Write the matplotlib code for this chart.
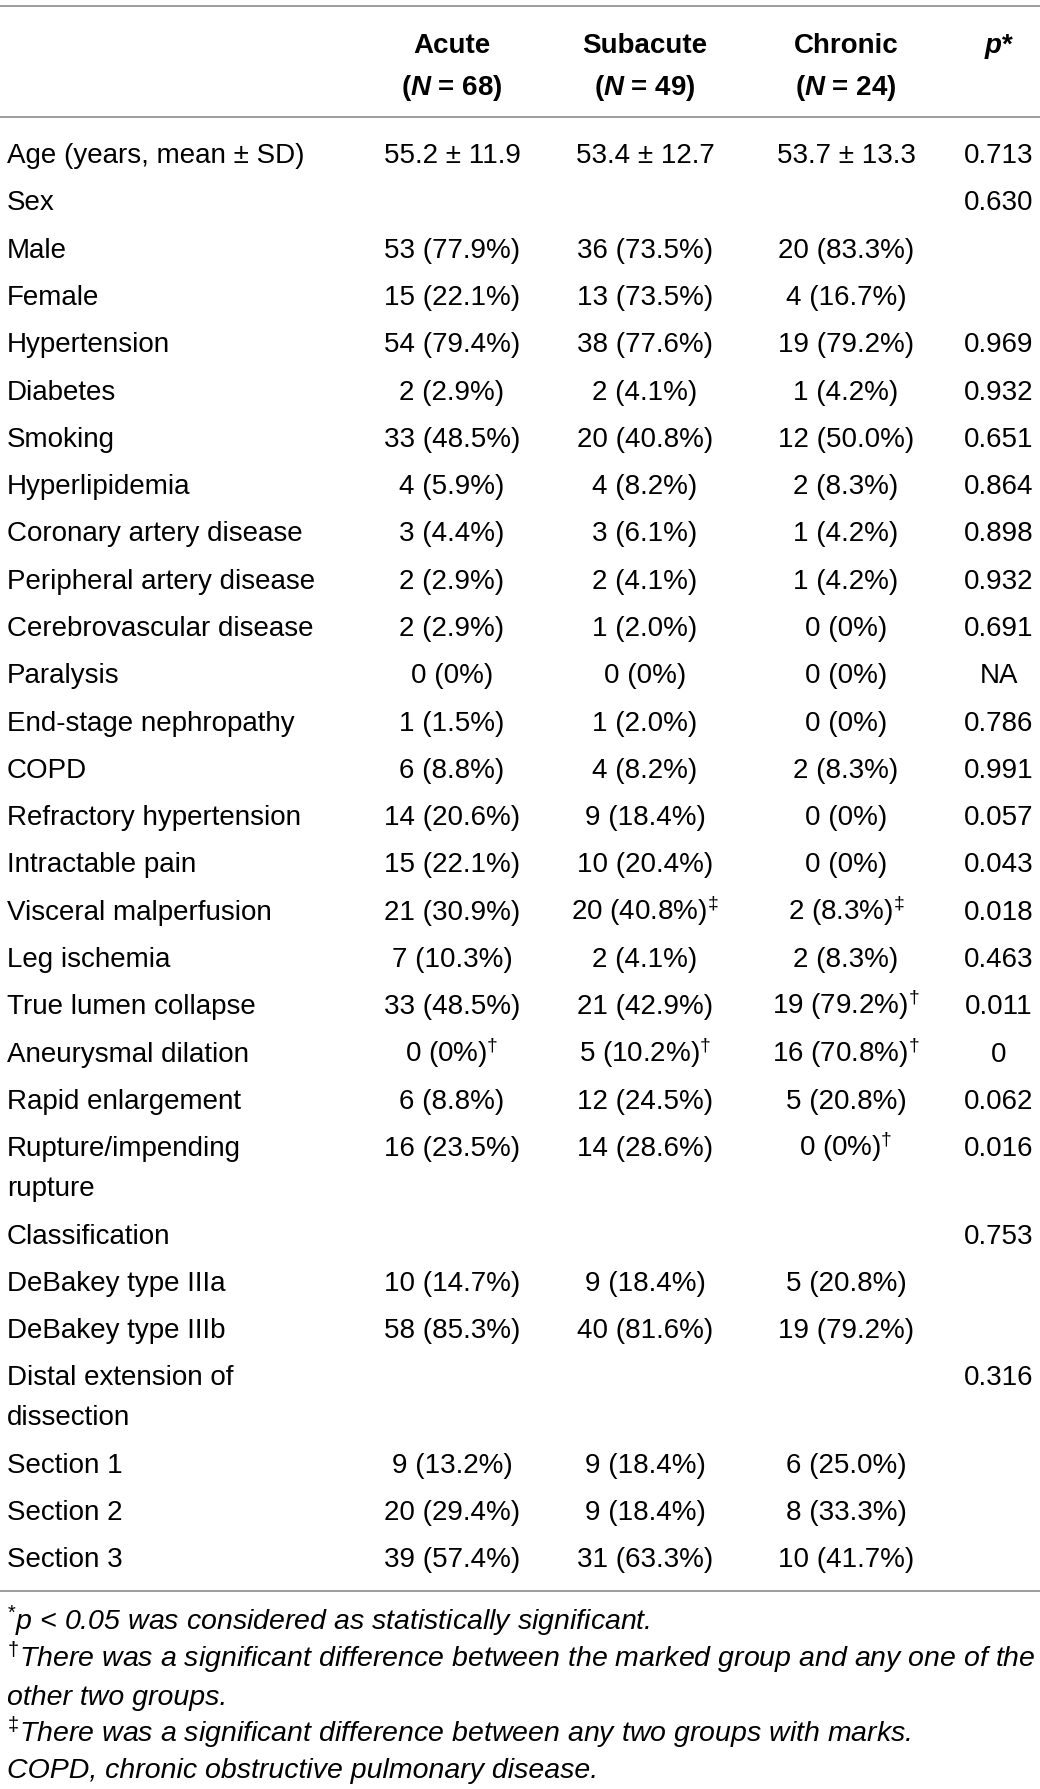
import matplotlib
matplotlib.use("Agg")
import matplotlib.pyplot as plt

plt.rcParams["font.family"] = ["Liberation Sans", "DejaVu Sans"]
plt.rcParams["mathtext.fontset"] = "custom"
plt.rcParams["mathtext.rm"] = "Liberation Sans"
plt.rcParams["mathtext.it"] = "Liberation Sans:italic"
plt.rcParams["mathtext.bf"] = "Liberation Sans:bold"
plt.rcParams["mathtext.bfit"] = "Liberation Sans:bold:italic"

# table content
groups = ["Acute", "Subacute", "Chronic"]
group_n = [68, 49, 24]

labels = [
    "Age (years, mean \u00b1 SD)", "Sex", "Male", "Female", "Hypertension", "Diabetes",
    "Smoking", "Hyperlipidemia", "Coronary artery disease", "Peripheral artery disease",
    "Cerebrovascular disease", "Paralysis", "End-stage nephropathy", "COPD",
    "Refractory hypertension", "Intractable pain", "Visceral malperfusion", "Leg ischemia",
    "True lumen collapse", "Aneurysmal dilation", "Rapid enlargement",
    "Rupture/impending\nrupture", "Classification", "DeBakey type IIIa", "DeBakey type IIIb",
    "Distal extension of\ndissection", "Section 1", "Section 2", "Section 3",
]
acute = [
    "55.2 \u00b1 11.9", "", "53 (77.9%)", "15 (22.1%)", "54 (79.4%)", "2 (2.9%)",
    "33 (48.5%)", "4 (5.9%)", "3 (4.4%)", "2 (2.9%)", "2 (2.9%)", "0 (0%)", "1 (1.5%)",
    "6 (8.8%)", "14 (20.6%)", "15 (22.1%)", "21 (30.9%)", "7 (10.3%)", "33 (48.5%)",
    "0 (0%)", "6 (8.8%)", "16 (23.5%)", "", "10 (14.7%)", "58 (85.3%)", "",
    "9 (13.2%)", "20 (29.4%)", "39 (57.4%)",
]
subacute = [
    "53.4 \u00b1 12.7", "", "36 (73.5%)", "13 (73.5%)", "38 (77.6%)", "2 (4.1%)",
    "20 (40.8%)", "4 (8.2%)", "3 (6.1%)", "2 (4.1%)", "1 (2.0%)", "0 (0%)", "1 (2.0%)",
    "4 (8.2%)", "9 (18.4%)", "10 (20.4%)", "20 (40.8%)", "2 (4.1%)", "21 (42.9%)",
    "5 (10.2%)", "12 (24.5%)", "14 (28.6%)", "", "9 (18.4%)", "40 (81.6%)", "",
    "9 (18.4%)", "9 (18.4%)", "31 (63.3%)",
]
chronic = [
    "53.7 \u00b1 13.3", "", "20 (83.3%)", "4 (16.7%)", "19 (79.2%)", "1 (4.2%)",
    "12 (50.0%)", "2 (8.3%)", "1 (4.2%)", "1 (4.2%)", "0 (0%)", "0 (0%)", "0 (0%)",
    "2 (8.3%)", "0 (0%)", "0 (0%)", "2 (8.3%)", "2 (8.3%)", "19 (79.2%)",
    "16 (70.8%)", "5 (20.8%)", "0 (0%)", "", "5 (20.8%)", "19 (79.2%)", "",
    "6 (25.0%)", "8 (33.3%)", "10 (41.7%)",
]
p_values = [
    "0.713", "0.630", "", "", "0.969", "0.932", "0.651", "0.864", "0.898", "0.932",
    "0.691", "NA", "0.786", "0.991", "0.057", "0.043", "0.018", "0.463", "0.011", "0",
    "0.062", "0.016", "0.753", "", "", "0.316", "", "", "",
]
# superscript marks: row index -> mark, per group
acute_marks = {19: "dagger"}
subacute_marks = {16: "ddagger", 19: "dagger"}
chronic_marks = {16: "ddagger", 18: "dagger", 19: "dagger", 21: "dagger"}

footnotes = [
    "$^{*}$p < 0.05 was considered as statistically significant.",
    "$^{\\dagger}$There was a significant difference between the marked group and any one of the",
    "other two groups.",
    "$^{\\ddagger}$There was a significant difference between any two groups with marks.",
    "COPD, chronic obstructive pulmonary disease.",
]

W, H = 1040, 1789
fig = plt.figure(figsize=(W / 100, H / 100), dpi=100)
ax = fig.add_axes([0, 0, 1, 1])
ax.set_xlim(0, W)
ax.set_ylim(H, 0)
ax.axis("off")

fs = 20
col_x = [452, 645, 846, 999]
line_color = "#8c8c8c"
base = 10  # center -> baseline offset

# horizontal rules
for y in [6, 117, 1591]:
    ax.plot([0, W], [y, y], color=line_color, lw=1.2, solid_capstyle="butt")

# header
for x, g, n in zip(col_x, groups, group_n):
    ax.text(x, 43 + base, g, ha="center", va="baseline", fontsize=fs, fontweight="bold")
    ax.text(x, 85 + base, "($\\mathbfit{N}$ = %d)" % n, ha="center", va="baseline",
            fontsize=fs, fontweight="bold")
ax.text(col_x[3], 43 + base, "$\\mathbfit{p}$*", ha="center", va="baseline",
        fontsize=fs, fontweight="bold")


def with_mark(s, mark):
    if mark:
        return s + "$^{\\%s}$" % mark
    return s


y = 153
step = 47.3
wrap = 40
for i, lab in enumerate(labels):
    parts = lab.split("\n")
    for k, part in enumerate(parts):
        ax.text(7, y + base + k * wrap, part, ha="left", va="baseline", fontsize=fs)
    cells = [
        with_mark(acute[i], acute_marks.get(i)),
        with_mark(subacute[i], subacute_marks.get(i)),
        with_mark(chronic[i], chronic_marks.get(i)),
        p_values[i],
    ]
    for x, c in zip(col_x, cells):
        if c:
            ax.text(x, y + base, c, ha="center", va="baseline", fontsize=fs)
    y += step + (len(parts) - 1) * wrap

foot_y = [1620, 1657, 1695, 1732, 1768]
for fy, txt in zip(foot_y, footnotes):
    ax.text(7, fy + base, txt, ha="left", va="baseline", fontsize=20.5, fontstyle="italic")

fig.savefig("out.png", dpi=100)
